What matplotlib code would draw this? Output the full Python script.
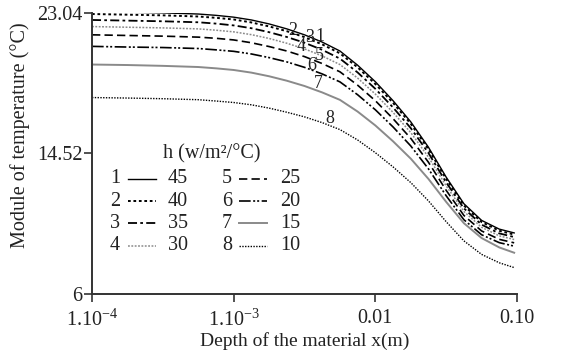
import numpy as np
import matplotlib
matplotlib.use("Agg")
import matplotlib.pyplot as plt
from matplotlib.lines import Line2D

plt.rcParams['font.family'] = ['Liberation Serif', 'DejaVu Serif']
plt.rcParams['mathtext.fontset'] = 'custom'
plt.rcParams['mathtext.rm'] = 'Liberation Serif'

# ---- data ----
log_depth = [-4, -3.75, -3.5, -3.25, -3.125, -3.0, -2.875, -2.75, -2.625, -2.5, -2.375,
             -2.25, -2.125, -2.0, -1.875, -1.75, -1.625, -1.5, -1.375, -1.25, -1.125, -1.02]
curve_ids = ["1", "2", "3", "4", "5", "6", "7", "8"]
h_values = ["45", "40", "35", "30", "25", "20", "15", "10"]
T1 = [23.11, 23.07, 23.03, 22.96, 22.88, 22.77, 22.60, 22.36, 22.06, 21.70, 21.26,
      20.72, 19.86, 18.86, 17.71, 16.43, 14.89, 13.08, 11.47, 10.46, 9.93, 9.70]
T2 = [22.96, 22.92, 22.88, 22.81, 22.73, 22.63, 22.45, 22.21, 21.92, 21.56, 21.12,
      20.58, 19.73, 18.72, 17.58, 16.31, 14.77, 12.97, 11.36, 10.36, 9.83, 9.60]
T3 = [22.60, 22.56, 22.52, 22.46, 22.38, 22.27, 22.10, 21.86, 21.57, 21.22, 20.79,
      20.26, 19.42, 18.43, 17.30, 16.05, 14.54, 12.76, 11.19, 10.20, 9.67, 9.45]
T4 = [22.20, 22.16, 22.12, 22.06, 21.98, 21.88, 21.71, 21.48, 21.19, 20.85, 20.42,
      19.90, 19.08, 18.11, 17.00, 15.78, 14.29, 12.55, 11.00, 10.04, 9.52, 9.30]
T5 = [21.70, 21.66, 21.62, 21.56, 21.49, 21.39, 21.22, 20.99, 20.72, 20.38, 19.96,
      19.46, 18.65, 17.71, 16.62, 15.43, 13.98, 12.28, 10.76, 9.82, 9.31, 9.10]
T6 = [21.00, 20.96, 20.93, 20.87, 20.79, 20.70, 20.54, 20.32, 20.06, 19.73, 19.33,
      18.85, 18.07, 17.16, 16.12, 14.97, 13.58, 11.95, 10.50, 9.59, 9.11, 8.90]
T7 = [19.90, 19.87, 19.82, 19.75, 19.67, 19.57, 19.41, 19.19, 18.92, 18.60, 18.21,
      17.76, 17.05, 16.21, 15.25, 14.20, 12.97, 11.58, 10.29, 9.39, 8.82, 8.50]
T8 = [17.90, 17.87, 17.83, 17.77, 17.69, 17.60, 17.46, 17.26, 17.01, 16.73, 16.38,
      15.96, 15.33, 14.56, 13.70, 12.75, 11.64, 10.38, 9.22, 8.40, 7.89, 7.60]
series = [T1, T2, T3, T4, T5, T6, T7, T8]
ytick_vals = [6, 14.52, 23.04]
ytick_labels = ["6", "14.52", "23.04"]
xtick_vals = [1e-4, 1e-3, 1e-2, 1e-1]
xtick_labels = [r"$\mathregular{1.10^{-4}}$", r"$\mathregular{1.10^{-3}}$", "0.01", "0.10"]
# label anchor positions for curve numbers (depth, temperature)
lab_x = [4.05e-3, 2.62e-3, 3.45e-3, 3.0e-3, 4.0e-3, 3.57e-3, 3.94e-3, 4.79e-3]
lab_y = [21.57, 21.99, 21.55, 21.02, 20.45, 19.87, 18.78, 16.66]

# ---- styles ----
GRAY = '#8a8a8a'
INK = '#222222'
styles = [
    dict(color='black', ls='-', lw=1.0),
    dict(color='black', ls=(0, (1.4, 1.4)), lw=1.4),
    dict(color='black', ls=(0, (5, 1.8, 1.5, 1.8)), lw=1.3),
    dict(color=GRAY, ls=(0, (1.2, 1.0)), lw=1.1),
    dict(color='black', ls=(0, (5, 2.5)), lw=1.2),
    dict(color='black', ls=(0, (7, 1.5, 1.2, 1.2, 1.2, 1.5)), lw=1.2),
    dict(color=GRAY, ls='-', lw=1.4),
    dict(color='black', ls=(0, (1.0, 1.0)), lw=1.0),
]

W, H = 578, 356
fig = plt.figure(figsize=(W / 100, H / 100), dpi=100)
ax = fig.add_axes([92 / W, 1 - 294 / H, (517 - 92) / W, (294 - 12.7) / H])

x = 10.0 ** np.array(log_depth)
for T, st in zip(series, styles):
    ax.plot(x, T, **st)

ax.set_xscale('log')
ax.set_xlim(1e-4, 1e-1)
ax.set_ylim(6, 23.04)
ax.set_xticks(xtick_vals)
ax.set_xticklabels(xtick_labels)
ax.xaxis.set_minor_locator(matplotlib.ticker.NullLocator())
ax.set_yticks(ytick_vals)
ax.set_yticklabels(ytick_labels)
for s in ['top', 'right']:
    ax.spines[s].set_visible(False)
for s in ['left', 'bottom']:
    ax.spines[s].set_color('#333333')
    ax.spines[s].set_linewidth(1.4)
ax.tick_params(direction='out', length=6, width=1.2, color='#333333',
               labelsize=14.5, labelcolor=INK)
ax.tick_params(axis='x', pad=5)
ax.tick_params(axis='y', pad=1)
ax.set_xlabel("Depth of the material x(m)", fontsize=14, labelpad=1, color=INK)
ax.set_ylabel("Module of temperature (°C)", fontsize=14.5, color=INK)
ax.yaxis.set_label_coords(-0.145, 0.565)

for cid, lx, ly in zip(curve_ids, lab_x, lab_y):
    ax.text(lx, ly, cid, fontsize=13, ha='center', va='center', color=INK)

# ---- legend (manual, in pixel coordinates) ----
def fx(px):
    return px / W

def fy(py):
    return 1 - py / H

fig.text(fx(212), fy(154), "h (w/m²/°C)", fontsize=14.5, ha='center', va='center', color=INK)
row_y = [179, 201, 223, 246]
for i, (cid, hv, st) in enumerate(zip(curve_ids, h_values, styles)):
    col = i // 4
    r = i % 4
    yy = fy(row_y[r])
    if col == 0:
        nx, l0, l1, vx = 115, 128, 156, 168
    else:
        nx, l0, l1, vx = 227, 239, 267, 280
    fig.text(fx(nx), yy, cid, fontsize=14.5, ha='center', va='center', color=INK)
    fig.add_artist(Line2D([fx(l0), fx(l1)], [yy, yy], transform=fig.transFigure,
                          color=st['color'], linestyle=st['ls'], linewidth=st['lw']))
    fig.text(fx(vx), yy, hv, fontsize=14.5, ha='left', va='center', color=INK)

fig.savefig("out.png", dpi=100)
